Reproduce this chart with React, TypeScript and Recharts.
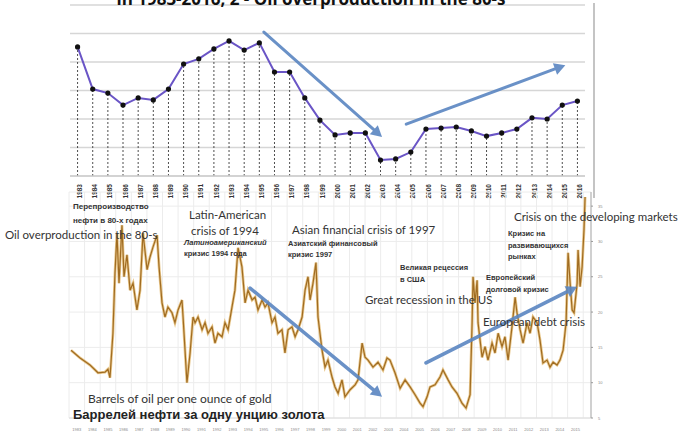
import React from 'react';
import { LineChart, Line, XAxis, YAxis, CartesianGrid, ReferenceLine } from 'recharts';

// ---------- top chart data ----------
const topYears = [
  1983, 1984, 1985, 1986, 1987, 1988, 1989, 1990, 1991, 1992, 1993, 1994,
  1995, 1996, 1997, 1998, 1999, 2000, 2001, 2002, 2003, 2004, 2005, 2006,
  2007, 2008, 2009, 2010, 2011, 2012, 2013, 2014, 2015, 2016,
];
const topValues = [
  45.3, 30.5, 29.1, 24.9, 27.4, 26.7, 30.5, 39.3, 41.1, 44.6, 47.4, 44.2,
  46.7, 36.5, 36.5, 27.4, 19.6, 14.4, 15.1, 15.1, 5.6, 6.0, 8.4, 16.5,
  16.8, 17.2, 15.8, 14.0, 15.1, 16.5, 20.4, 20.0, 24.9, 26.3,
];
const topYTicks = [0, 10, 20, 30, 40, 50, 60];
const topTitle = 'in 1983-2016, 2 - Oil overproduction in the 80-s';
const topArrowStarts = [[1995.3, 50.5], [2004.7, 18.2]];
const topArrowEnds = [[2003.1, 13.7], [2015.2, 38.9]];

// ---------- bottom chart data (barrels of oil per ounce of gold) ----------
const ratioTimes = [
  1983.13, 1983.71, 1984.35, 1984.86, 1985.31, 1985.5, 1985.63, 1985.82, 1985.95, 1986.08,
  1986.21, 1986.40, 1986.53, 1986.72, 1986.92, 1987.11, 1987.36, 1987.56, 1987.75, 1988.01,
  1988.20, 1988.39, 1988.65, 1988.78, 1988.97, 1989.16, 1989.35, 1989.61, 1989.80, 1990.00,
  1990.25, 1990.32, 1990.57, 1990.77, 1990.96, 1991.09, 1991.28, 1991.54, 1991.73, 1991.92,
  1992.18, 1992.37, 1992.56, 1992.82, 1993.01, 1993.21, 1993.46, 1993.65, 1993.85, 1994.10,
  1994.30, 1994.49, 1994.75, 1994.94, 1995.13, 1995.39, 1995.58, 1995.77, 1996.03, 1996.22,
  1996.41, 1996.67, 1996.86, 1997.06, 1997.31, 1997.51, 1997.70, 1997.96, 1998.15, 1998.34,
  1998.47, 1998.66, 1998.85, 1998.98, 1999.24, 1999.43, 1999.62, 1999.88, 2000.07, 2000.27,
  2000.52, 2000.71, 2001.04, 2001.36, 2001.55, 2001.81, 2002.00, 2002.19, 2002.51, 2002.83,
  2003.15, 2003.41, 2003.60, 2003.92, 2004.25, 2004.57, 2004.89, 2005.21, 2005.53, 2005.72,
  2005.98, 2006.17, 2006.49, 2006.81, 2007.00, 2007.33, 2007.58, 2007.90, 2008.22, 2008.48,
  2008.74, 2008.87, 2008.93, 2009.06, 2009.19, 2009.25, 2009.51, 2009.70, 2009.89, 2010.15,
  2010.34, 2010.54, 2010.79, 2010.98, 2011.18, 2011.43, 2011.63, 2011.75, 2011.95, 2012.14,
  2012.40, 2012.59, 2012.78, 2013.04, 2013.23, 2013.42, 2013.68, 2013.87, 2014.07, 2014.32,
  2014.51, 2014.71, 2014.90, 2015.03, 2015.16, 2015.29, 2015.41, 2015.61, 2015.67, 2015.80,
  2015.93, 2016.05, 2016.12,
];
const ratioValues = [
  14.6, 13.5, 12.5, 11.4, 11.5, 11.9, 10.7, 17.0, 25.5, 31.1,
  24.1, 32.3, 25.0, 28.1, 23.1, 24.1, 20.3, 23.1, 31.2, 26.0,
  27.8, 29.2, 30.9, 26.4, 21.3, 19.3, 20.7, 19.9, 18.5, 20.3,
  21.7, 19.3, 10.0, 14.2, 19.3, 18.5, 19.3, 17.5, 18.5, 17.0,
  17.9, 15.6, 17.0, 16.5, 18.5, 17.5, 20.7, 23.1, 29.1, 26.4,
  21.3, 23.1, 21.7, 22.1, 20.3, 21.7, 20.7, 21.3, 18.5, 19.3,
  17.0, 17.5, 14.2, 17.5, 17.9, 16.5, 17.5, 19.3, 23.1, 25.0,
  21.7, 24.1, 27.0, 19.3, 14.6, 12.2, 13.2, 10.8, 9.4, 8.5,
  10.4, 8.0, 9.0, 9.7, 10.4, 15.6, 13.6, 13.2, 12.2, 12.9,
  11.8, 13.5, 13.2, 11.4, 9.2, 10.4, 9.4, 8.3, 7.1, 6.6,
  8.0, 9.4, 9.7, 10.8, 11.8, 10.4, 9.4, 8.5, 7.1, 6.4,
  8.3, 18.5, 25.0, 21.3, 24.5, 18.5, 13.6, 15.1, 13.2, 15.6,
  14.2, 17.0, 15.1, 16.5, 13.2, 17.9, 22.1, 19.9, 17.5, 15.6,
  18.5, 17.0, 19.3, 18.5, 16.0, 12.8, 13.2, 12.2, 12.9, 12.5,
  13.2, 14.6, 18.5, 28.4, 24.1, 20.3, 19.9, 24.1, 28.8, 23.6,
  26.4, 31.6, 36.3,
];
const ratioYTicks = [5, 10, 15, 20, 25, 30, 35];
const ratioXTicks = [
  1983, 1984, 1985, 1986, 1987, 1988, 1989, 1990, 1991, 1992, 1993, 1994,
  1995, 1996, 1997, 1998, 1999, 2000, 2001, 2002, 2003, 2004, 2005, 2006,
  2007, 2008, 2009, 2010, 2011, 2012, 2013, 2014, 2015, 2016,
];
const bottomArrowStarts = [[1994.62, 23.4], [2005.91, 12.8]];
const bottomArrowEnds = [[2003.09, 8.0], [2015.61, 23.6]];

const topData = topYears.map((y, i) => ({ year: y, value: topValues[i] }));
const ratioData = ratioTimes.map((t, i) => ({ t, v: ratioValues[i] }));

const ARROW = '#5a86c2';

const makeArrow = (width: number, head: number) => (p: any) => {
  const { x1, y1, x2, y2 } = p;
  if ([x1, y1, x2, y2].some((v) => typeof v !== 'number' || isNaN(v))) return <g />;
  const a = Math.atan2(y2 - y1, x2 - x1);
  const bx = x2 - Math.cos(a) * head;
  const by = y2 - Math.sin(a) * head;
  const hw = head * 0.55;
  const px = -Math.sin(a) * hw;
  const py = Math.cos(a) * hw;
  return (
    <g opacity={0.9}>
      <line x1={x1} y1={y1} x2={bx} y2={by} stroke={ARROW} strokeWidth={width} strokeLinecap="round" />
      <polygon points={`${x2},${y2} ${bx + px},${by + py} ${bx - px},${by - py}`} fill={ARROW} />
    </g>
  );
};

const BottomTick = (props: any) => {
  const { x, y, payload } = props;
  if (payload.value >= 2016) return <g />;
  return (
    <text x={x + 7.8} y={y + 5} textAnchor="middle" fontSize={4} fontFamily="Liberation Sans" fill="#888">
      {payload.value}
    </text>
  );
};

const RightTick = (props: any) => {
  const { x, y, payload } = props;
  return (
    <text x={x + 3} y={y + 1.5} textAnchor="start" fontSize={4} fontFamily="Liberation Sans" fill="#888">
      {payload.value}
    </text>
  );
};

export default function App() {
  const latin = 'Lato';
  const ru = 'Liberation Sans';
  return (
    <div
      style={{
        position: 'absolute',
        left: 0,
        top: 0,
        width: 679,
        height: 431,
        background: '#fff',
        overflow: 'hidden',
      }}
    >
      {/* top chart */}
      <div style={{ position: 'absolute', left: 0, top: 0 }}>
        <LineChart width={679} height={205} data={topData} margin={{ top: 5, right: 94, bottom: 5, left: 70 }}>
          <CartesianGrid vertical={false} stroke="#d6d6d6" strokeWidth={1.5} />
          <XAxis
            dataKey="year"
            type="number"
            domain={[1982.5, 2016.5]}
            ticks={topYears}
            interval={0}
            height={24}
            angle={-90}
            textAnchor="end"
            tick={{ fontSize: 6.5, fontWeight: 'bold', fill: '#333', fontFamily: 'Liberation Sans' }}
            tickMargin={2}
            tickLine={false}
            axisLine={{ stroke: '#cfcfcf', strokeWidth: 1.5 }}
          />
          <YAxis hide domain={[0, 60]} ticks={topYTicks} />
          {topData.map((d) => (
            <ReferenceLine
              key={'drop' + d.year}
              segment={[{ x: d.year, y: 0 }, { x: d.year, y: d.value }]}
              stroke="#222"
              strokeWidth={0.8}
              strokeDasharray="2 2"
            />
          ))}
          <Line
            dataKey="value"
            stroke="#6a55c6"
            strokeWidth={2}
            dot={{ r: 1.6, fill: '#111', stroke: '#111' }}
            isAnimationActive={false}
          />
          {topArrowStarts.map((s, i) => (
            <ReferenceLine
              key={'ta' + i}
              segment={[{ x: s[0], y: s[1] }, { x: topArrowEnds[i][0], y: topArrowEnds[i][1] }]}
              shape={makeArrow(3, 11)}
            />
          ))}
        </LineChart>
      </div>
      <div style={{ position: 'absolute', left: 593, top: 3, width: 2, height: 195, background: '#c4c4c4' }} />

      {/* bottom chart */}
      <div style={{ position: 'absolute', left: 0, top: 185 }}>
        <LineChart width={679} height={246} data={ratioData} margin={{ top: 7, right: 68, bottom: 3, left: 69 }}>
          <CartesianGrid stroke="#ececec" strokeWidth={1} />
          <XAxis
            dataKey="t"
            type="number"
            domain={[1983, 2016.5]}
            ticks={ratioXTicks}
            interval={0}
            height={10}
            tick={(p: any) => <BottomTick {...p} />}
            tickLine={false}
            axisLine={{ stroke: '#dcdcdc' }}
          />
          <YAxis
            orientation="right"
            domain={[5, 37]}
            ticks={ratioYTicks}
            width={20}
            tick={(p: any) => <RightTick {...p} />}
            tickLine={{ stroke: '#999' }}
            tickSize={2}
            axisLine={{ stroke: '#b8b8b8', strokeWidth: 1.2 }}
          />
          <Line dataKey="v" stroke="#e2b567" strokeWidth={2.8} strokeOpacity={0.75} dot={false} isAnimationActive={false} />
          <Line dataKey="v" stroke="#a06c22" strokeWidth={1.2} dot={false} isAnimationActive={false} />
          {bottomArrowStarts.map((s, i) => (
            <ReferenceLine
              key={'ba' + i}
              segment={[{ x: s[0], y: s[1] }, { x: bottomArrowEnds[i][0], y: bottomArrowEnds[i][1] }]}
              shape={makeArrow(3.5, 11)}
            />
          ))}
        </LineChart>
      </div>

      {/* annotations */}
      <svg width={679} height={431} style={{ position: 'absolute', left: 0, top: 0, pointerEvents: 'none' }}>
        <text x={311} y={5} textAnchor="middle" fontSize={17} fontWeight="bold" fontFamily="Open Sans" fill="#111">
          {topTitle}
        </text>

        <text x={73} y={209} fontSize={8} fontWeight="bold" fontFamily={ru} fill="#333">Перепроизводство</text>
        <text x={73} y={223} fontSize={8} fontWeight="bold" fontFamily={ru} fill="#333">нефти в 80-х годах</text>
        <text x={5} y={239} fontSize={11.5} fontFamily={latin} fill="#333">Oil overproduction in the 80-s</text>

        <text x={189} y={219} fontSize={11.5} fontFamily={latin} fill="#333">Latin-American</text>
        <text x={191} y={235} fontSize={11.5} fontFamily={latin} fill="#333">crisis of 1994</text>
        <text x={184} y={245} fontSize={7.5} fontWeight="bold" fontStyle="italic" fontFamily={ru} fill="#333">Латиноамериканский</text>
        <text x={184} y={256} fontSize={7.5} fontWeight="bold" fontFamily={ru} fill="#333">кризис 1994 года</text>

        <text x={292} y={234} fontSize={11.5} fontFamily={latin} fill="#333">Asian financial crisis of 1997</text>
        <text x={288} y={246} fontSize={7.5} fontWeight="bold" fontFamily={ru} fill="#333">Азиатский финансовый</text>
        <text x={288} y={257} fontSize={7.5} fontWeight="bold" fontFamily={ru} fill="#333">кризис 1997</text>

        <text x={400} y={270} fontSize={7.5} fontWeight="bold" fontFamily={ru} fill="#333">Великая рецессия</text>
        <text x={400} y={282} fontSize={7.5} fontWeight="bold" fontFamily={ru} fill="#333">в США</text>
        <text x={365} y={304} fontSize={11.5} fontFamily={latin} fill="#333">Great recession in the US</text>

        <text x={486} y={280} fontSize={7.5} fontWeight="bold" fontFamily={ru} fill="#333">Европейский</text>
        <text x={486} y={292} fontSize={7.5} fontWeight="bold" fontFamily={ru} fill="#333">долговой кризис</text>
        <text x={483} y={326} fontSize={11.5} fontFamily={latin} fill="#333">European debt crisis</text>

        <text x={508} y={236} fontSize={7.5} fontWeight="bold" fontFamily={ru} fill="#333">Кризис на</text>
        <text x={508} y={248} fontSize={7.5} fontWeight="bold" fontFamily={ru} fill="#333">развивающихся</text>
        <text x={508} y={259} fontSize={7.5} fontWeight="bold" fontFamily={ru} fill="#333">рынках</text>
        <text x={514} y={221} fontSize={11.5} fontFamily={latin} fill="#333">Crisis on the developing markets</text>

        <text x={88} y={403} fontSize={12} fontFamily={latin} fill="#333">Barrels of oil per one ounce of gold</text>
        <text x={73} y={419} fontSize={13} fontWeight="bold" fontFamily={ru} fill="#222">Баррелей нефти за одну унцию золота</text>
      </svg>
    </div>
  );
}
